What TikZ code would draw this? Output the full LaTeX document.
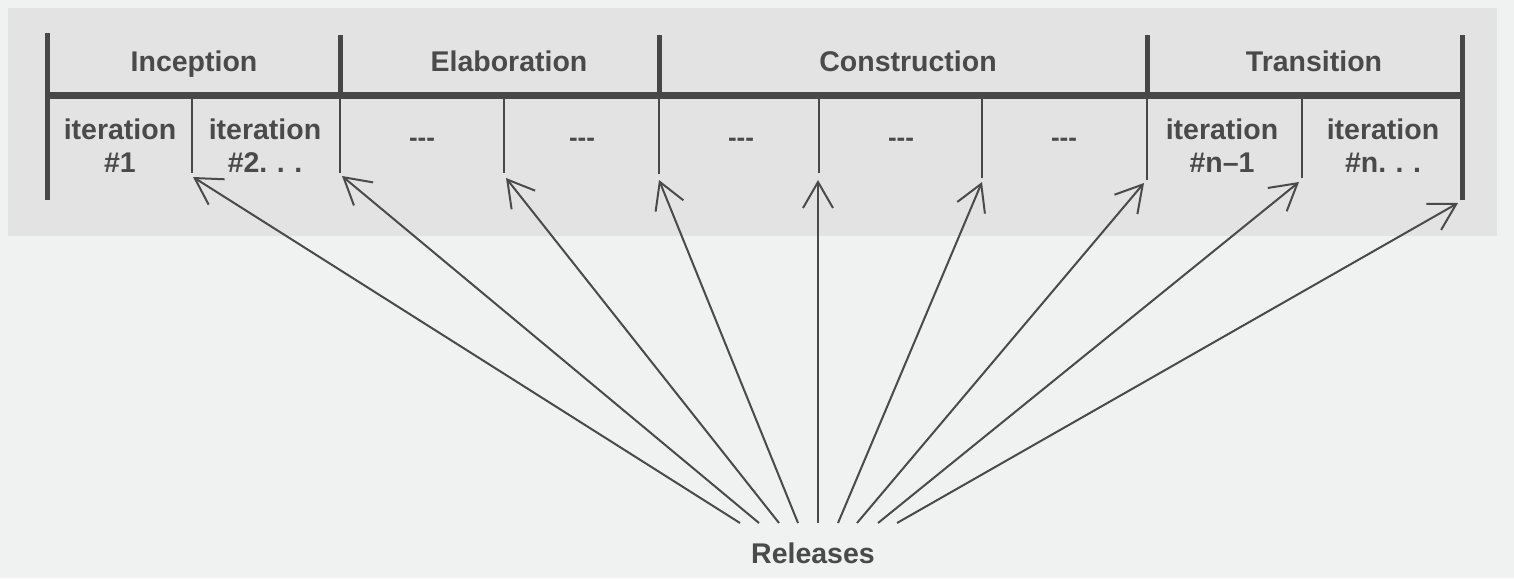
\documentclass[tikz,border=0pt]{standalone}
\usepackage{fontspec}
\setmainfont{Liberation Sans}
\usetikzlibrary{arrows.meta}
\definecolor{bgupper}{HTML}{E3E3E3}
\definecolor{bglower}{HTML}{F0F1F1}
\definecolor{ink}{HTML}{4A4A4A}
\definecolor{rule}{HTML}{474747}
\tikzset{
  lbl/.style={text=ink, font=\bfseries\fontsize{28.5}{33}\selectfont, inner sep=0pt, align=center},
  dots/.style={text=ink, font=\bfseries\fontsize{26}{28}\selectfont, inner sep=0pt},
  thickrule/.style={draw=rule, line width=5pt},
  hrule/.style={draw=rule, line width=7pt},
  thinrule/.style={draw=rule, line width=2.5pt},
  rel/.style={draw=ink, line width=2pt, -{Straight Barb[length=26pt,width=30pt,line width=2pt]}},
}
\begin{document}
\begin{tikzpicture}[x=1pt,y=-1pt]
\useasboundingbox (0,0) rectangle (1514,578);
\fill[bglower] (0,0) rectangle (1514,578);
\fill[bgupper] (8,8) rectangle (1497,236);
% horizontal bar
\draw[hrule] (44.5,95) -- (1464.5,95);
% phase dividers
\draw[thickrule] (47,33) -- (47,200);
\draw[thickrule] (340,35) -- (340,95);
\draw[thickrule] (659,35) -- (659,95);
\draw[thickrule] (1147,35) -- (1147,95);
\draw[thickrule] (1462,35) -- (1462,200);
% iteration dividers
\coordinate (d1) at (192,173);
\coordinate (d2) at (340,173);
\coordinate (d3) at (504,173);
\coordinate (d4) at (659,174);
\coordinate (d5) at (819,173);
\coordinate (d6) at (982,178);
\coordinate (d7) at (1147,180);
\coordinate (d8) at (1302,178);
\draw[thinrule] (192,95) -- (d1);
\draw[thinrule] (340,95) -- (d2);
\draw[thinrule] (504,95) -- (d3);
\draw[thinrule] (659,95) -- (d4);
\draw[thinrule] (819,95) -- (d5);
\draw[thinrule] (982,95) -- (d6);
\draw[thinrule] (1147,95) -- (d7);
\draw[thinrule] (1302,95) -- (d8);
% phase labels
\node[lbl, anchor=base] (inc) at (194,71.5) {Inception};
\node[lbl, anchor=base] (ela) at (509,71.5) {Elaboration};
\node[lbl, anchor=base] (con) at (908,71.5) {Construction};
\node[lbl, anchor=base] (tra) at (1314,71.5) {Transition};
% iteration labels
\node[lbl] (it1) at (120,146) {iteration\\\#1};
\node[lbl] (it2) at (265,146) {iteration\\\#2.\,\,.\,\,.};
\node[dots] (e1) at (422,142) {-{}-{}-};
\node[dots] (e2) at (582,142) {-{}-{}-};
\node[dots] (c1) at (741,142) {-{}-{}-};
\node[dots] (c2) at (901,142) {-{}-{}-};
\node[dots] (c3) at (1064,142) {-{}-{}-};
\node[lbl] (itn1) at (1222,146) {iteration\\\#n--1};
\node[lbl] (itn) at (1383,146) {iteration\\\#n.\,\,.\,\,.};
% releases
\node[lbl, anchor=base] (releases) at (813,563) {Releases};
\coordinate (t1) at (740,523);
\coordinate (t2) at (759,523);
\coordinate (t3) at (779,523);
\coordinate (t4) at (798,523);
\coordinate (t5) at (818,523);
\coordinate (t6) at (838,523);
\coordinate (t7) at (857,523);
\coordinate (t8) at (878,523);
\coordinate (t9) at (897,523);
\coordinate (h1) at (193,177);
\coordinate (h2) at (342,176);
\coordinate (h3) at (506,178);
\coordinate (h4) at (659,180);
\coordinate (h5) at (818,180);
\coordinate (h6) at (982,182);
\coordinate (h7) at (1144,183);
\coordinate (h8) at (1299,182);
\coordinate (h9) at (1458,203);
\draw[rel] (t1) -- (h1);
\draw[rel] (t2) -- (h2);
\draw[rel] (t3) -- (h3);
\draw[rel] (t4) -- (h4);
\draw[rel] (t5) -- (h5);
\draw[rel] (t6) -- (h6);
\draw[rel] (t7) -- (h7);
\draw[rel] (t8) -- (h8);
\draw[rel] (t9) -- (h9);
\end{tikzpicture}
\end{document}
